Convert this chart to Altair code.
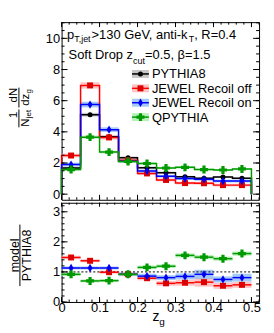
import altair as alt
import pandas as pd

# ---------------- data ----------------
edges = [0.0, 0.05, 0.10, 0.15, 0.20, 0.25, 0.30, 0.35, 0.40, 0.45, 0.50]
names = ["PYTHIA8", "JEWEL Recoil off", "JEWEL Recoil on", "QPYTHIA"]

pythia8 = [1.68, 5.10, 3.68, 2.33, 1.69, 1.38, 1.12, 1.02, 1.10, 1.02]
jewel_off = [2.48, 6.98, 3.64, 2.18, 1.33, 0.91, 0.71, 0.70, 0.58, 0.58]
jewel_on = [1.90, 5.75, 4.14, 2.12, 1.48, 1.15, 1.00, 0.95, 0.84, 0.84]
qpythia = [1.58, 3.66, 2.70, 2.10, 1.97, 1.68, 1.72, 1.58, 1.55, 1.62]

err_pythia8 = [0.08, 0.12, 0.10, 0.09, 0.08, 0.07, 0.06, 0.06, 0.06, 0.06]
err_off = [0.12, 0.20, 0.14, 0.12, 0.10, 0.09, 0.09, 0.09, 0.09, 0.09]
err_on = [0.12, 0.18, 0.15, 0.12, 0.10, 0.09, 0.09, 0.09, 0.09, 0.09]
err_q = [0.08, 0.10, 0.09, 0.08, 0.07, 0.07, 0.07, 0.06, 0.06, 0.06]

ratio_off = [1.48, 1.37, 0.99, 0.92, 0.79, 0.62, 0.64, 0.66, 0.54, 0.57]
ratio_on = [1.13, 1.13, 1.13, 0.92, 0.86, 0.81, 0.85, 0.92, 0.75, 0.81]
ratio_q = [0.92, 0.70, 0.71, 0.92, 1.15, 1.19, 1.55, 1.49, 1.44, 1.61]

rerr_off = [0.06, 0.05, 0.05, 0.06, 0.07, 0.08, 0.10, 0.15, 0.10, 0.10]
rerr_on = [0.05, 0.05, 0.05, 0.06, 0.08, 0.08, 0.10, 0.15, 0.10, 0.13]
rerr_q = [0.06, 0.05, 0.05, 0.05, 0.06, 0.06, 0.07, 0.07, 0.07, 0.07]

top_y_labels = [0, 2, 4, 6, 8, 10]
ratio_y_labels = [0, 1, 2, 3]
x_labels = [0, 0.1, 0.2, 0.3, 0.4, 0.5]

# ---------------- styles ----------------
FONT = "Liberation Sans"
line_colors = ["#000000", "#ff0000", "#0000ff", "#009900"]
mark_colors = ["#000000", "#dd0000", "#0000ee", "#009900"]
band_colors = ["#b4b4b4", "#ffb0b0", "#86b8f4", "#a0eca0"]
shapes = ["circle", "square", "M0,-1L0.6,0L0,1L-0.6,0Z", "cross"]
msizes = [26, 36, 70, 64]

W, H1, H2 = 199, 179, 100
xs = alt.Scale(domain=[0, 0.52], nice=False, zero=False)
ys_top = alt.Scale(domain=[-0.36, 11.04], nice=False, zero=False)
ys_bot = alt.Scale(domain=[0, 3.3], nice=False, zero=False)

yaxis_top = alt.Axis(values=top_y_labels, ticks=False, domain=False, grid=False,
                     labelFontSize=13, labelFont=FONT, labelColor="black",
                     labelPadding=2, title=None)
yaxis_bot = alt.Axis(values=ratio_y_labels, ticks=False, domain=False, grid=False,
                     labelFontSize=13, labelFont=FONT, labelColor="black",
                     labelPadding=2, title=None)
xaxis_bot = alt.Axis(values=x_labels, ticks=False, domain=False, grid=False,
                     labelFontSize=13, labelFont=FONT, labelColor="black",
                     labelPadding=0, labelFlush=False, labelOverlap=False, title=None,
                     labelExpr="datum.value == 0 ? '0' : format(datum.value, '.1f')")

one = pd.DataFrame({"a": [0]})

AW = {" ": 278, ",": 278, "-": 333, ".": 278, "=": 584, ">": 584, "A": 667, "D": 722,
      "E": 667, "G": 778, "H": 722, "I": 278, "J": 500, "L": 556, "N": 722, "P": 667,
      "R": 722, "S": 667, "T": 611, "V": 667, "W": 944, "Y": 667, "a": 556, "c": 500,
      "d": 556, "e": 556, "f": 278, "g": 556, "i": 222, "j": 222, "k": 500, "l": 222,
      "m": 833, "n": 556, "o": 556, "p": 556, "r": 333, "s": 500, "t": 278, "u": 556,
      "z": 500, "β": 572}


def tw(s, size):
    return sum(AW.get(c, 556) for c in s) / 1000.0 * size


def text_run(pieces, x0, y0, size, sub, drop):
    layers = []
    x = x0
    for txt, is_sub in pieces:
        fs = sub if is_sub else size
        yy = y0 + (drop if is_sub else 0)
        layers.append(alt.Chart(one).mark_text(
            text=txt, align="left", baseline="alphabetic", fontSize=fs, font=FONT,
            color="black").encode(x=alt.value(x), y=alt.value(yy)))
        x += tw(txt, fs)
    return layers


def rot_text(txt, cx, cy, size):
    return alt.Chart(one).mark_text(
        text=txt, angle=270, align="center", baseline="middle", fontSize=size,
        font=FONT, color="black").encode(x=alt.value(cx), y=alt.value(cy))


def vbar(cx, y1, y2):
    return alt.Chart(one).mark_rule(color="black", strokeWidth=1).encode(
        x=alt.value(cx), y=alt.value(y1), y2=alt.value(y2))


def bins_df(vals, errs):
    return pd.DataFrame({
        "lo": edges[:-1], "hi": edges[1:],
        "mid": [(a + b) / 2 for a, b in zip(edges[:-1], edges[1:])],
        "v": vals,
        "vlo": [v - e for v, e in zip(vals, errs)],
        "vhi": [v + e for v, e in zip(vals, errs)],
    })


def step_df(vals):
    xx = [edges[0]] + edges[:-1] + [edges[-1], edges[-1]]
    yy = [0.0] + list(vals) + [vals[-1], 0.0]
    return pd.DataFrame({"x": xx, "y": yy, "i": list(range(len(xx)))})


def tick_layers(ys, yaxis, xaxis, ymaj, ymin, xmaj, xmin, H, ylen, xlen_top, xlen_bot):
    layers = []
    for vals, ln in ((ymaj, ylen[0]), (ymin, ylen[1])):
        d = pd.DataFrame({"v": vals})
        b = alt.Chart(d).mark_rule(color="black", strokeWidth=1)
        layers.append(b.encode(y=alt.Y("v:Q", scale=ys, axis=yaxis),
                               x=alt.value(0), x2=alt.value(ln)))
        layers.append(b.encode(y=alt.Y("v:Q", scale=ys, axis=yaxis),
                               x=alt.value(W), x2=alt.value(W - ln)))
    for vals, lt, lb in ((xmaj, xlen_top[0], xlen_bot[0]), (xmin, xlen_top[1], xlen_bot[1])):
        d = pd.DataFrame({"v": vals})
        b = alt.Chart(d).mark_rule(color="black", strokeWidth=1)
        layers.append(b.encode(x=alt.X("v:Q", scale=xs, axis=xaxis),
                               y=alt.value(0), y2=alt.value(lt)))
        layers.append(b.encode(x=alt.X("v:Q", scale=xs, axis=xaxis),
                               y=alt.value(H), y2=alt.value(H - lb)))
    return layers


x_major = [0.0, 0.1, 0.2, 0.3, 0.4, 0.5]
x_minor = [round(0.02 * k, 2) for k in range(27)]
top_major = [0, 2, 4, 6, 8, 10]
top_minor = [0.5 * k for k in range(23)]
bot_major = [0, 1, 2, 3]
bot_minor = [round(0.2 * k, 1) for k in range(17)]

# ---------------- top panel ----------------
top_layers = []
# invisible anchor fixing the plot origin inside the page
top_layers.append(alt.Chart(one).mark_rect(opacity=0).encode(
    x=alt.value(-53), x2=alt.value(-52), y=alt.value(-12), y2=alt.value(-11)))

top_vals = [pythia8, jewel_off, jewel_on, qpythia]
top_errs = [err_pythia8, err_off, err_on, err_q]
for k in range(4):
    d = bins_df(top_vals[k], top_errs[k])
    top_layers.append(alt.Chart(d).mark_rect(color=band_colors[k], opacity=0.75).encode(
        x=alt.X("lo:Q", scale=xs, axis=None), x2="hi:Q",
        y=alt.Y("vlo:Q", scale=ys_top, axis=yaxis_top), y2="vhi:Q"))
for k in range(4):
    s = step_df(top_vals[k])
    top_layers.append(alt.Chart(s).mark_line(
        interpolate="step-after", color=line_colors[k], strokeWidth=1.5).encode(
        x=alt.X("x:Q", scale=xs, axis=None),
        y=alt.Y("y:Q", scale=ys_top, axis=yaxis_top),
        order=alt.Order("i:Q")))
for k in range(4):
    d = bins_df(top_vals[k], top_errs[k])
    top_layers.append(alt.Chart(d).mark_point(
        shape=shapes[k], size=msizes[k], filled=True, opacity=1,
        color=mark_colors[k]).encode(
        x=alt.X("mid:Q", scale=xs, axis=None),
        y=alt.Y("v:Q", scale=ys_top, axis=yaxis_top)))

top_layers += tick_layers(ys_top, yaxis_top, None, top_major, top_minor, x_major, x_minor,
                          H1, (6, 3), (5, 2.5), (5, 2.5))

# legend
leg_x0, leg_x1, leg_xm, leg_tx = 71, 88, 79.5, 91
for k in range(4):
    cy = 52.2 + 14.5 * k
    top_layers.append(alt.Chart(one).mark_rect(color=band_colors[k], opacity=0.75).encode(
        x=alt.value(leg_x0), x2=alt.value(leg_x1), y=alt.value(cy - 4), y2=alt.value(cy + 4)))
    top_layers.append(alt.Chart(one).mark_rule(color=line_colors[k], strokeWidth=1.5).encode(
        x=alt.value(leg_x0), x2=alt.value(leg_x1), y=alt.value(cy)))
    top_layers.append(alt.Chart(one).mark_point(
        shape=shapes[k], size=msizes[k], filled=True, opacity=1, color=mark_colors[k]).encode(
        x=alt.value(leg_xm), y=alt.value(cy)))
    top_layers.append(alt.Chart(one).mark_text(
        text=names[k], align="left", baseline="middle", fontSize=13, font=FONT,
        color="black").encode(x=alt.value(leg_tx), y=alt.value(cy + 0.5)))

# annotation texts
top_layers += text_run([("p", False), ("T,jet", True), (">130 GeV, anti-k", False),
                        ("T", True), (", R=0.4", False)], 5.5, 16.5, 13, 9, 4)
top_layers += text_run([("Soft Drop z", False), ("cut", True), ("=0.5, β=1.5", False)],
                       7, 37, 13, 9, 5)

# rotated y title (top)
top_layers += [vbar(-43, 66, 86), vbar(-43, 88, 106),
               rot_text("dN", -47.5, 73.5, 11.5), rot_text("dz", -36, 78.2, 11.5),
               rot_text("g", -32.5, 69.7, 8),
               rot_text("1", -47.5, 93.5, 11.5), rot_text("N", -36, 101.2, 11.5),
               rot_text("jet", -32.5, 92.6, 8)]

top = alt.layer(*top_layers).properties(width=W, height=H1)

# ---------------- ratio panel ----------------
bot_layers = []
r_vals = [ratio_off, ratio_on, ratio_q]
r_errs = [rerr_off, rerr_on, rerr_q]
for j in range(3):
    k = j + 1
    d = bins_df(r_vals[j], r_errs[j])
    bot_layers.append(alt.Chart(d).mark_rect(color=band_colors[k], opacity=0.75).encode(
        x=alt.X("lo:Q", scale=xs, axis=xaxis_bot), x2="hi:Q",
        y=alt.Y("vlo:Q", scale=ys_bot, axis=yaxis_bot), y2="vhi:Q"))

unity = pd.DataFrame({"v": [1.0]})
bot_layers.append(alt.Chart(unity).mark_rule(color="black", strokeWidth=1, strokeDash=[2, 2]).encode(
    y=alt.Y("v:Q", scale=ys_bot, axis=yaxis_bot), x=alt.value(0), x2=alt.value(W)))

for j in range(3):
    k = j + 1
    d = bins_df(r_vals[j], r_errs[j])
    bot_layers.append(alt.Chart(d).mark_rule(color=line_colors[k], strokeWidth=1.5).encode(
        x=alt.X("lo:Q", scale=xs, axis=xaxis_bot), x2="hi:Q",
        y=alt.Y("v:Q", scale=ys_bot, axis=yaxis_bot)))
    bot_layers.append(alt.Chart(d).mark_point(
        shape=shapes[k], size=msizes[k], filled=True, opacity=1, color=mark_colors[k]).encode(
        x=alt.X("mid:Q", scale=xs, axis=xaxis_bot),
        y=alt.Y("v:Q", scale=ys_bot, axis=yaxis_bot)))

bot_layers += tick_layers(ys_bot, yaxis_bot, xaxis_bot, bot_major, bot_minor, x_major, x_minor,
                          H2, (6, 3), (4, 2), (5, 2.5))

# x title z_g
bot_layers += text_run([("z", False), ("g", True)], 91.5, 119.5, 14, 10, 4)

# rotated y title (ratio)
bot_layers += [vbar(-42, 22, 84),
               rot_text("model", -46.5, 53, 12.5), rot_text("PYTHIA8", -35, 53, 12.5)]

bottom = alt.layer(*bot_layers).properties(width=W, height=H2)

chart = alt.vconcat(top, bottom, spacing=0).properties(
    padding={"left": 0, "top": 0, "right": 5, "bottom": 5},
).configure_view(stroke="black", strokeWidth=1)

chart.save("out.html", embed_options={"renderer": "svg", "actions": False})
